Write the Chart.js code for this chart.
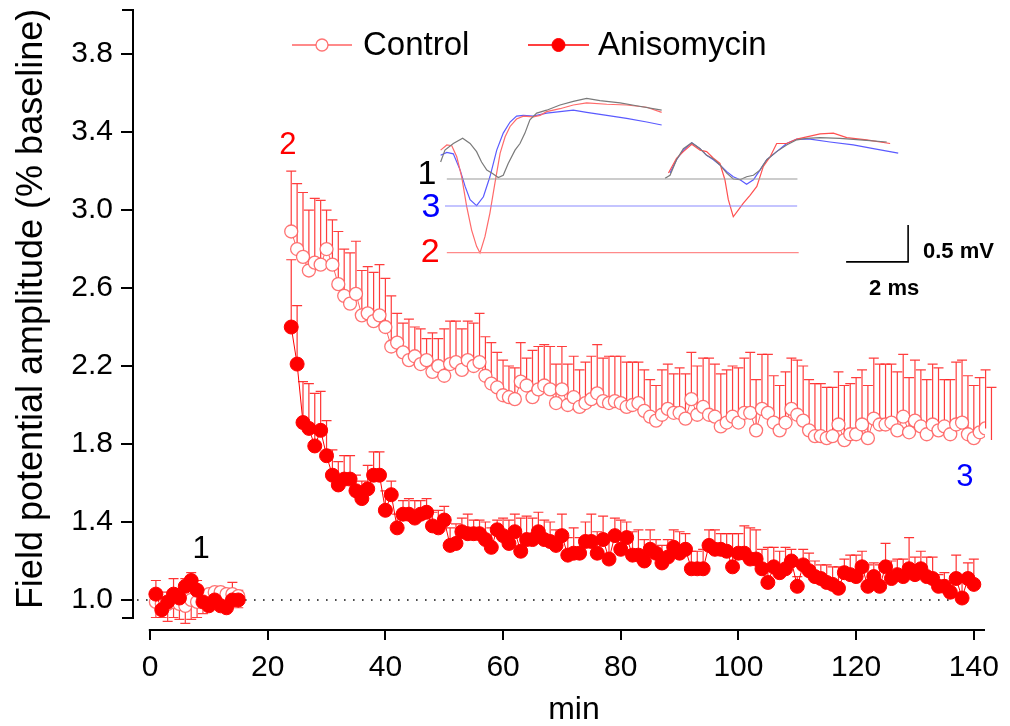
<!DOCTYPE html>
<html>
<head>
<meta charset="utf-8">
<script src="https://cdn.jsdelivr.net/npm/chart.js@4.4.1/dist/chart.umd.min.js"></script>
<style>
  html, body { margin: 0; padding: 0; background: #fff; }
  #contenedor { width: 1010px; height: 726px; }
</style>
</head>
<body>
<div id="contenedor"><canvas id="grafico"></canvas></div>
<script>

// ---------------- datos principales ----------------
const minutosControl = [1,2,3,4,5,6,7,8,9,10,11,12,13,14,15,
  24,25,26,27,28,29,30,31,32,33,34,35,36,37,38,39,40,41,42,43,44,45,46,47,48,49,50,51,52,53,
  54,55,56,57,58,59,60,61,62,63,64,65,66,67,68,69,70,71,72,73,74,75,76,77,78,79,80,81,82,83,
  84,85,86,87,88,89,90,91,92,93,94,95,96,97,98,99,100,101,102,103,104,105,106,107,108,109,110,
  111,112,113,114,115,116,117,118,119,120,121,122,123,124,125,126,127,128,129,130,131,132,133,
  134,135,136,137,138,139,140,141,142,143];

const control = [0.99,0.98,0.98,0.99,0.98,0.97,1.00,0.99,1.02,1.03,1.04,1.04,1.03,1.03,1.02,
  2.89,2.80,2.76,2.69,2.73,2.72,2.80,2.72,2.62,2.56,
  2.52,2.57,2.46,2.47,2.43,2.46,2.40,2.30,2.32,2.27,
  2.23,2.25,2.21,2.23,2.17,2.20,2.15,2.21,2.22,2.18,
  2.23,2.20,2.22,2.15,2.11,2.09,2.05,2.04,2.03,2.12,
  2.10,2.04,2.08,2.10,2.08,2.01,2.08,2.00,2.04,1.99,
  2.01,2.03,2.06,2.02,2.01,2.02,2.01,1.99,2.00,2.01,
  1.97,1.94,1.92,1.95,1.98,1.96,1.96,1.93,2.03,1.95,
  1.99,1.95,1.94,1.89,1.91,1.94,1.91,1.96,1.96,1.87,
  1.98,1.96,1.91,1.87,1.91,1.98,1.95,1.92,1.87,1.84,
  1.84,1.83,1.84,1.90,1.82,1.85,1.85,1.90,1.83,1.93,
  1.90,1.90,1.91,1.87,1.94,1.86,1.92,1.89,1.85,1.90,
  1.87,1.89,1.85,1.90,1.91,1.85,1.83,1.86,1.88,1.82];

// SEM; negativo = barra hacia abajo
const errControl = [-0.08,-0.07,-0.09,-0.08,-0.08,-0.09,-0.10,-0.08,-0.09,-0.07,-0.08,-0.08,-0.06,-0.05,-0.06,
  0.31,0.335,0.33,0.31,0.33,0.33,0.20,0.23,0.27,0.24,
  0.26,0.27,0.23,0.24,0.25,0.26,0.25,0.26,0.15,0.15,
  0.21,0.15,0.18,0.11,0.20,0.14,0.24,0.22,0.21,0.21,
  0.20,0.22,0.25,0.20,0.21,0.18,0.18,0.16,0.16,0.20,
  0.14,0.24,0.22,0.21,0.22,0.20,0.22,0.21,0.21,0.19,
  0.21,0.22,0.25,0.22,0.24,0.23,0.24,0.23,0.22,0.21,
  0.21,0.19,0.18,0.23,0.23,0.20,0.23,0.23,0.24,0.25,
  0.25,0.29,0.27,0.27,0.27,0.26,0.28,0.28,0.31,0.26,
  0.28,0.30,0.24,0.23,0.26,0.26,0.28,0.28,0.26,0.27,
  0.27,0.26,0.25,0.27,0.28,0.26,0.29,0.28,0.27,0.31,
  0.31,0.31,0.30,0.30,0.32,0.28,0.31,0.29,0.28,0.31,
  0.32,0.24,0.28,0.32,0.32,0.30,0.27,0.28,0.30,0.27];

const minutosAniso = [1,2,3,4,5,6,7,8,9,10,11,12,13,14,15,
  24,25,26,27,28,29,30,31,32,33,34,35,36,37,38,39,40,41,42,43,44,45,46,47,48,49,50,51,52,53,
  54,55,56,57,58,59,60,61,62,63,64,65,66,67,68,69,70,71,72,73,74,75,76,77,78,79,80,81,82,83,
  84,85,86,87,88,89,90,91,92,93,94,95,96,97,98,99,100,101,102,103,104,105,106,107,108,109,110,
  111,112,113,114,115,116,117,118,119,120,121,122,123,124,125,126,127,128,129,130,131,132,133,
  134,135,136,137,138,139,140];

const anisomicina = [1.03,0.95,0.99,1.03,1.01,1.07,1.10,1.05,0.99,0.97,1.00,0.97,0.96,1.00,1.00,
  2.40,2.21,1.91,1.88,1.79,1.87,1.74,1.64,1.59,1.62,
  1.62,1.56,1.52,1.57,1.64,1.64,1.46,1.54,1.37,1.44,
  1.44,1.42,1.44,1.45,1.38,1.37,1.41,1.28,1.29,1.35,
  1.34,1.34,1.34,1.31,1.27,1.36,1.33,1.29,1.35,1.25,
  1.31,1.31,1.35,1.31,1.30,1.28,1.33,1.23,1.24,1.24,
  1.30,1.30,1.24,1.31,1.21,1.33,1.26,1.32,1.23,1.23,
  1.20,1.26,1.24,1.19,1.22,1.27,1.24,1.26,1.16,1.16,
  1.16,1.28,1.26,1.26,1.25,1.17,1.24,1.24,1.21,1.21,
  1.16,1.09,1.17,1.14,1.16,1.20,1.07,1.18,1.15,1.12,
  1.11,1.09,1.08,1.06,1.14,1.13,1.12,1.17,1.07,1.12,
  1.07,1.17,1.11,1.13,1.12,1.16,1.13,1.16,1.12,1.11,
  1.07,1.07,1.04,1.11,1.01,1.11,1.08];

const errAniso = [0.07,0.06,0.05,0.08,0.05,0.04,0.04,0.05,0.04,0.04,0.03,0.04,0.05,0.09,0.05,
  0.345,0.30,0.21,0.23,0.27,0.20,0.18,0.13,0.12,0.12,
  0.12,0.08,0.09,0.12,0.12,0.12,0.10,0.07,0.07,0.07,
  0.08,0.09,0.07,0.07,0.07,0.09,0.07,0.09,0.10,0.07,
  0.10,0.07,0.07,0.09,0.10,0.05,0.09,0.12,0.09,0.17,
  0.12,0.11,0.10,0.10,0.10,0.08,0.11,0.09,0.13,0.08,
  0.10,0.14,0.11,0.12,0.12,0.09,0.15,0.08,0.12,0.13,
  0.11,0.10,0.07,0.09,0.09,0.09,0.11,0.08,0.09,0.09,
  0.10,0.08,0.10,0.08,0.09,0.17,0.10,0.14,0.16,0.15,
  0.10,0.18,0.10,0.11,0.11,0.06,0.05,0.08,0.09,0.08,
  0.07,0.09,0.09,0.11,0.07,0.10,0.11,0.08,0.11,0.07,
  0.11,0.12,0.09,0.08,0.09,0.16,0.09,0.09,0.10,0.11,
  0.06,0.07,0.05,0.12,0.08,0.08,0.13];

const lineaBaseX = [-2.2, 137];
const lineaBaseY = [1, 1];

const ticksX = [0, 20, 40, 60, 80, 100, 120, 140];
const ticksY = [1.0, 1.4, 1.8, 2.2, 2.6, 3.0, 3.4, 3.8];
const limitesEjeX = [-0.2, 141.9];   // tramo dibujado del eje x
const limitesEjeY = [0.908, 4.026];  // tramo dibujado del eje y

// ---------------- registros del recuadro (ms, mV) ----------------
const trazo1A = [[0.02,0.23],[0.16,0.39],[0.43,0.48],[0.73,0.55],[0.97,0.48],[1.18,0.37],[1.34,0.23],
  [1.51,0.12],[1.67,0.08],[1.88,0.02],[2.04,0.05],[2.20,0.21],[2.42,0.39],[2.58,0.48],[2.74,0.62],
  [2.90,0.80],[3.12,0.89],[3.44,0.93],[3.87,1.00],[4.30,1.05],[4.73,1.09],[5.16,1.06],[5.81,1.03],
  [6.34,0.99],[7.15,0.93]];
const trazo2A = [[0.02,0.39],[0.22,0.46],[0.38,0.45],[0.54,0.30],[0.70,0.03],[0.86,-0.37],[1.02,-0.69],
  [1.18,-0.91],[1.29,-1.00],[1.45,-0.78],[1.61,-0.46],[1.77,-0.06],[1.94,0.35],[2.10,0.57],[2.26,0.71],
  [2.47,0.81],[2.69,0.85],[3.01,0.84],[3.23,0.86],[3.44,0.91],[3.87,0.95],[4.30,1.00],[4.73,1.03],
  [5.38,1.01],[6.02,1.00],[6.67,0.97],[7.15,0.90]];
const trazo3A = [[0.02,0.32],[0.22,0.36],[0.43,0.34],[0.65,0.12],[0.81,-0.10],[0.97,-0.28],[1.18,-0.36],
  [1.40,-0.24],[1.61,0.03],[1.83,0.39],[2.04,0.62],[2.26,0.77],[2.47,0.85],[2.69,0.86],[3.01,0.85],
  [3.44,0.89],[3.87,0.91],[4.30,0.93],[4.73,0.90],[5.38,0.86],[6.02,0.82],[6.67,0.77],[7.15,0.73]];
const trazo1B = [[7.26,0.01],[7.42,0.05],[7.63,0.26],[7.85,0.41],[8.12,0.49],[8.39,0.41],[8.60,0.32],
  [8.82,0.27],[9.03,0.19],[9.25,0.08],[9.46,0.00],[9.68,-0.01],[9.89,0.03],[10.11,0.05],[10.32,0.12],
  [10.54,0.26],[10.86,0.37],[11.18,0.46],[11.51,0.53],[11.83,0.55],[12.26,0.56],[12.90,0.55],
  [13.55,0.53],[14.41,0.50]];
const trazo2B = [[7.37,0.08],[7.63,0.28],[7.85,0.37],[8.12,0.47],[8.39,0.39],[8.60,0.37],[8.82,0.28],
  [9.03,0.21],[9.19,-0.01],[9.30,-0.28],[9.46,-0.51],[9.62,-0.42],[9.78,-0.33],[10.00,-0.22],
  [10.22,-0.10],[10.43,0.17],[10.65,0.30],[10.86,0.48],[11.18,0.48],[11.51,0.54],[11.83,0.57],
  [12.26,0.61],[12.69,0.62],[13.12,0.56],[13.76,0.53],[14.52,0.48]];
const trazo3B = [[7.42,0.08],[7.63,0.26],[7.85,0.39],[8.12,0.49],[8.39,0.41],[8.60,0.32],[8.82,0.26],
  [9.03,0.19],[9.25,0.10],[9.46,0.03],[9.68,-0.01],[9.89,-0.07],[10.11,-0.01],[10.32,0.12],
  [10.54,0.26],[10.86,0.37],[11.18,0.48],[11.51,0.54],[11.94,0.54],[12.58,0.50],[13.33,0.46],
  [13.98,0.41],[14.78,0.35]];
const base1 = [[0.22,0],[11.53,0]];
const base3 = [[0.16,-0.365],[11.52,-0.365]];
const base2 = [[0.22,-0.996],[11.57,-0.996]];
const escala = [[13.1,-1.12],[15.1,-1.12],[15.1,-0.62]];  // 2 ms x 0.5 mV

// ---------------- armado ----------------
const puntos = (xs, ys) => xs.map((v, i) => ({x: v, y: ys[i]}));
const pares = arr => arr.map(p => ({x: p[0], y: p[1]}));
const cortar = (color) => (ctx => (ctx.p1.parsed.x - ctx.p0.parsed.x > 3 ? 'transparent' : color));

const rojoClaro = 'rgba(255,70,70,0.85)';
const fuente = '"Liberation Sans", Arial, sans-serif';

function trazo(datos, color, ancho) {
  return {
    data: pares(datos), xAxisID: 'xi', yAxisID: 'yi', showLine: true,
    borderColor: color, borderWidth: ancho || 1.2, pointRadius: 0, order: 2
  };
}

const barrasError = {
  id: 'barrasError',
  beforeDatasetsDraw(chart) {
    const {ctx, scales: {x, y}} = chart;
    chart.data.datasets.forEach(ds => {
      if (!ds.errores) return;
      ctx.save();
      ctx.strokeStyle = ds.colorError;
      ctx.lineWidth = 1.2;
      ds.data.forEach((p, j) => {
        const px = x.getPixelForValue(p.x);
        const y0 = y.getPixelForValue(p.y);
        const y1 = y.getPixelForValue(p.y + ds.errores[j]);
        ctx.beginPath();
        ctx.moveTo(px, y0); ctx.lineTo(px, y1);
        ctx.moveTo(px - 5, y1); ctx.lineTo(px + 5, y1);
        ctx.stroke();
      });
      ctx.restore();
    });
  }
};

// ejes separados al estilo Origin + títulos
const ejes = {
  id: 'ejes',
  afterDraw(chart) {
    const {ctx, chartArea, scales: {x, y}} = chart;
    ctx.save();
    ctx.strokeStyle = '#000';
    ctx.lineWidth = 2;
    const xa = chartArea.left;
    const yArr = y.getPixelForValue(limitesEjeY[1]);
    const yAb = y.getPixelForValue(limitesEjeY[0]);
    ctx.beginPath();
    ctx.moveTo(xa - 11, yArr); ctx.lineTo(xa, yArr);
    ctx.lineTo(xa, yAb); ctx.lineTo(xa - 11, yAb);
    ctx.stroke();
    const x0 = x.getPixelForValue(limitesEjeX[0]);
    const x1 = x.getPixelForValue(limitesEjeX[1]);
    ctx.beginPath();
    ctx.moveTo(x0, chartArea.bottom);
    ctx.lineTo(x1, chartArea.bottom);
    ctx.stroke();

    ctx.fillStyle = '#000';
    ctx.textAlign = 'center';
    ctx.textBaseline = 'alphabetic';
    ctx.font = '32px ' + fuente;
    ctx.fillText('min', (x0 + x1) / 2 + 7, chart.height - 7);

    ctx.translate(42, (yArr + yAb) / 2 - 5);
    ctx.rotate(-Math.PI / 2);
    ctx.font = '36px ' + fuente;
    ctx.fillText('Field potential amplitude (% baseline)', 0, 0);
    ctx.restore();
  }
};

// textos sueltos: etiquetas 1/2/3 y la barra de escala
const rotulos = [
  {t: '1', eje: 'p', x: 8.7, y: 1.26, color: '#000', font: '31px ' + fuente},
  {t: '2', eje: 'p', x: 23.45, y: 3.33, color: '#ff0000', font: '31px ' + fuente},
  {t: '3', eje: 'p', x: 138.5, y: 1.626, color: '#0000ff', font: '31px ' + fuente},
  {t: '1', eje: 'i', x: -0.42, y: 0.054, color: '#000', font: '34px ' + fuente},
  {t: '3', eje: 'i', x: -0.29, y: -0.39, color: '#0000ff', font: '34px ' + fuente},
  {t: '2', eje: 'i', x: -0.32, y: -0.99, color: '#ff0000', font: '34px ' + fuente},
  {t: '0.5 mV', eje: 'i', x: 15.58, y: -0.987, color: '#000', font: 'bold 22px ' + fuente, align: 'left'},
  {t: '2 ms', eje: 'i', x: 14.65, y: -1.486, color: '#000', font: 'bold 22px ' + fuente}
];

const textos = {
  id: 'textos',
  afterDraw(chart) {
    const {ctx, scales} = chart;
    ctx.save();
    ctx.textBaseline = 'middle';
    rotulos.forEach(r => {
      const sx = r.eje === 'p' ? scales.x : scales.xi;
      const sy = r.eje === 'p' ? scales.y : scales.yi;
      ctx.font = r.font;
      ctx.fillStyle = r.color;
      ctx.textAlign = r.align || 'center';
      ctx.fillText(r.t, sx.getPixelForValue(r.x), sy.getPixelForValue(r.y));
    });
    ctx.restore();
  }
};

const leyenda = {
  id: 'leyenda',
  afterDraw(chart) {
    const {ctx} = chart;
    const items = [
      {ds: chart.data.datasets[0], x0: 292, x1: 352, txt: 363},
      {ds: chart.data.datasets[1], x0: 528, x1: 589, txt: 598}
    ];
    const yy = 45;
    ctx.save();
    items.forEach(it => {
      ctx.strokeStyle = it.ds.borderColor;
      ctx.lineWidth = 1.5;
      ctx.beginPath(); ctx.moveTo(it.x0, yy); ctx.lineTo(it.x1, yy); ctx.stroke();
      ctx.beginPath();
      ctx.arc((it.x0 + it.x1) / 2, yy, it.ds.pointRadius - 0.5, 0, Math.PI * 2);
      ctx.fillStyle = it.ds.pointBackgroundColor;
      ctx.fill();
      ctx.lineWidth = it.ds.pointBorderWidth;
      ctx.strokeStyle = it.ds.pointBorderColor;
      ctx.stroke();
      ctx.fillStyle = '#000';
      ctx.font = '33px ' + fuente;
      ctx.textAlign = 'left';
      ctx.textBaseline = 'middle';
      ctx.fillText(it.ds.label, it.txt, yy + 1);
    });
    ctx.restore();
  }
};

Chart.defaults.font.family = fuente;
Chart.defaults.color = '#000';

const grafico = new Chart(document.getElementById('grafico').getContext('2d'), {
  type: 'scatter',
  data: {
    datasets: [
      {
        label: 'Control',
        data: puntos(minutosControl, control),
        errores: errControl,
        colorError: 'rgba(255,40,40,0.9)',
        showLine: true,
        borderColor: rojoClaro,
        borderWidth: 1,
        segment: {borderColor: cortar(rojoClaro)},
        pointRadius: 6.5,
        pointBackgroundColor: '#ffffff',
        pointBorderColor: 'rgba(255,90,90,0.85)',
        pointBorderWidth: 1.3,
        order: 1
      },
      {
        label: 'Anisomycin',
        data: puntos(minutosAniso, anisomicina),
        errores: errAniso,
        colorError: 'rgba(255,30,30,0.9)',
        showLine: true,
        borderColor: '#ff0000',
        borderWidth: 1,
        segment: {borderColor: cortar('#ff0000')},
        pointRadius: 7,
        pointBackgroundColor: '#ff0000',
        pointBorderColor: '#ff0000',
        pointBorderWidth: 1,
        order: 0
      },
      {
        label: 'base',
        data: puntos(lineaBaseX, lineaBaseY),
        showLine: true,
        borderColor: '#000',
        borderWidth: 1.5,
        borderDash: [1.5, 7.5],
        pointRadius: 0,
        order: 3
      },
      trazo(base1, '#9a9a9a'),
      trazo(base3, '#8a8aff'),
      trazo(base2, '#ff8a8a'),
      trazo(trazo1A, '#7a7a7a'),
      trazo(trazo2A, '#ff6a6a'),
      trazo(trazo3A, '#5a5aff'),
      trazo(trazo1B, '#7a7a7a'),
      trazo(trazo2B, '#ff5050'),
      trazo(trazo3B, '#5a5aff'),
      trazo(escala, '#000', 1.6)
    ]
  },
  options: {
    responsive: true,
    maintainAspectRatio: false,
    animation: false,
    layout: {padding: {top: 10, right: 25, left: 0, bottom: 0}},
    plugins: {legend: {display: false}, tooltip: {enabled: false}},
    scales: {
      x: {
        type: 'linear', min: -2.89, max: 141.9,
        afterBuildTicks: s => { s.ticks = ticksX.map(v => ({value: v})); },
        afterFit: s => { s.height = 96; s.paddingLeft = 0; s.paddingRight = 0; },
        grid: {drawOnChartArea: false, drawTicks: true, tickLength: 10, color: '#000', lineWidth: 2},
        border: {display: false},
        ticks: {font: {size: 30}, padding: 10, maxRotation: 0}
      },
      y: {
        type: 'linear', min: 0.846, max: 4.026,
        afterBuildTicks: s => { s.ticks = ticksY.map(v => ({value: v})); },
        afterFit: s => { s.width = 133; s.paddingTop = 0; s.paddingBottom = 0; },
        grid: {drawOnChartArea: false, drawTicks: true, tickLength: 12, color: '#000', lineWidth: 2},
        border: {display: false},
        ticks: {font: {size: 30}, padding: 8, callback: v => v.toFixed(1)}
      },
      xi: {type: 'linear', display: false, min: -9.903, max: 17.58},
      yi: {type: 'linear', display: false, min: -6.095, max: 2.284}
    }
  },
  plugins: [barrasError, ejes, textos, leyenda]
});

</script>
</body>
</html>
